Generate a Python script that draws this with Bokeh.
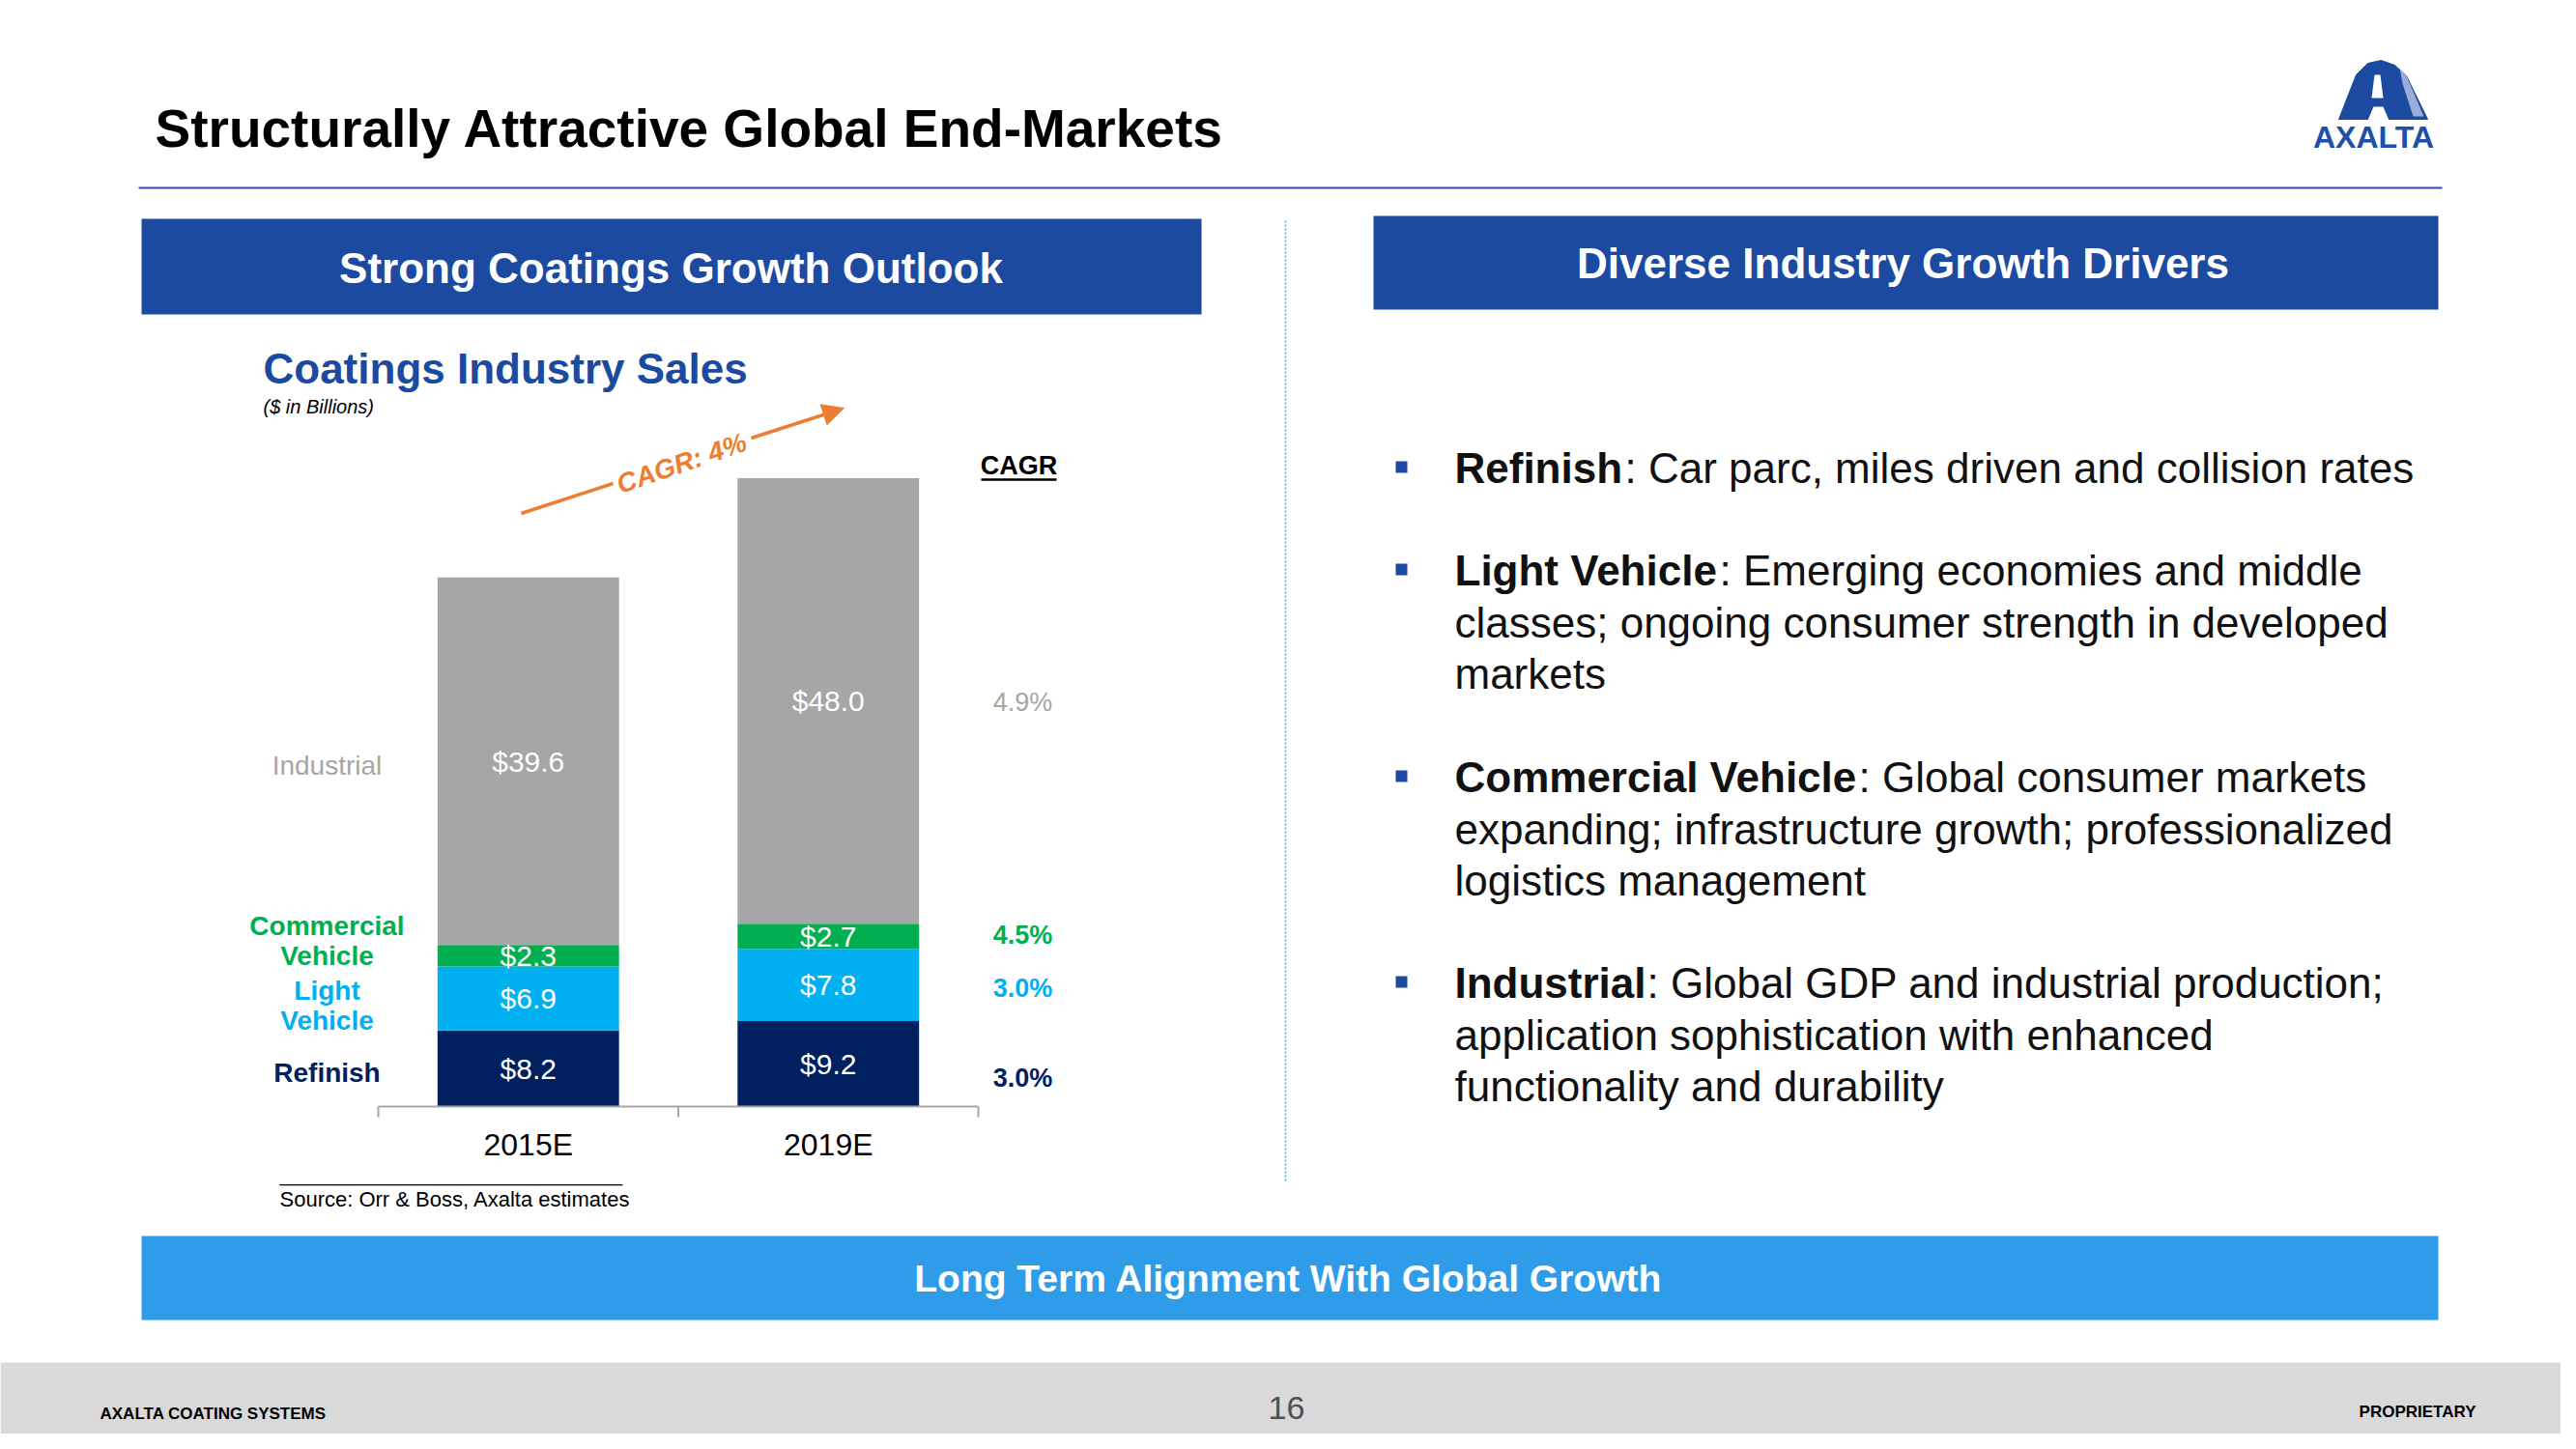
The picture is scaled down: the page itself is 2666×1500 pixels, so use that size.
import numpy as np
from bokeh.plotting import figure
from bokeh.models import Range1d, ColumnDataSource, Arrow, NormalHead
from bokeh.core.properties import value
from bokeh.embed import file_html
from bokeh.resources import INLINE

# ---------------- data ----------------
years = ["2015E", "2019E"]
segment_keys = ["refinish", "light", "commercial", "industrial"]
refinish = [8.2, 9.2]
light_vehicle = [6.9, 7.8]
commercial_vehicle = [2.3, 2.7]
industrial = [39.6, 48.0]
segment_cagr = ["3.0%", "3.0%", "4.5%", "4.9%"]
total_cagr = "CAGR: 4%"
left_labels = ["Refinish", "Light\nVehicle", "Commercial\nVehicle", "Industrial"]

bullets = [
    ("Refinish", [": Car parc, miles driven and collision rates"]),
    ("Light Vehicle", [": Emerging economies and middle",
                       "classes; ongoing consumer strength in developed",
                       "markets"]),
    ("Commercial Vehicle", [": Global consumer markets",
                            "expanding; infrastructure growth; professionalized",
                            "logistics management"]),
    ("Industrial", [": Global GDP and industrial production;",
                    "application sophistication with enhanced",
                    "functionality and durability"]),
]

# ---------------- styles / layout ----------------
seg_colors = ["#002060", "#00b0f0", "#00b050", "#a6a6a6"]
label_colors = ["#002060", "#00b0f0", "#00b050", "#a6a6a6"]
label_styles = ["bold", "bold", "bold", "normal"]
DARK_BLUE = "#1c4aa0"
LIGHT_BANNER = "#2e9ce9"
ORANGE = "#ed7d31"
FONT = "Liberation Sans"

W, H = 2650, 1484
X0, Y0 = 0, 0
CAT_X0, CAT_X1 = 391, 1012     # pixel extent of category axis
VAL_Y0 = 1145                  # pixel y of value 0
PX_PER_UNIT = 9.61
BAR_W = 0.605

p = figure(width=W, height=H, x_range=Range1d(X0, X0 + W), y_range=Range1d(Y0 + H, Y0),
           x_axis_type=None, y_axis_type=None, output_backend="svg", toolbar_location=None,
           min_border=0, outline_line_color=None, background_fill_color="white",
           border_fill_color="white")
p.grid.visible = False

cu = 2.0 / (CAT_X1 - CAT_X0)
p.extra_x_ranges = {"cat": Range1d(-(CAT_X0 - X0) * cu, 2 + (X0 + W - CAT_X1) * cu)}
p.extra_y_ranges = {"val": Range1d(-(Y0 + H - VAL_Y0) / PX_PER_UNIT, (VAL_Y0 - Y0) / PX_PER_UNIT)}


def txt(x, y, s, size, color="black", style="normal", align="left",
        baseline="middle", angle=0.0, xr="default", yr="default", lh=1.2):
    p.text(x=[x], y=[y], text=[s], text_font=value(FONT), text_font_size=f"{size}px",
           text_font_style=style, text_color=color, text_align=align,
           text_baseline=baseline, angle=angle, x_range_name=xr, y_range_name=yr,
           text_line_height=lh)


# ---------------- header ----------------
txt(160, 132, "Structurally Attractive Global End-Markets", 55, style="bold")
p.segment(x0=[143], y0=[194], x1=[2527], y1=[194], line_color="#2f52a0", line_width=2)

# logo
p.patch(x=[2420, 2438, 2450, 2464, 2478, 2490, 2512],
        y=[123, 77, 65, 62, 67, 78, 123], fill_color=DARK_BLUE, line_color=DARK_BLUE)
p.patch(x=[2483, 2490, 2508, 2497, 2486], y=[70, 78, 120, 120, 86],
        fill_color="#a8b8e0", line_color=None, fill_alpha=0.9)
p.patch(x=[2457, 2463, 2466, 2454], y=[77, 77, 101, 101], fill_color="white", line_color=None)
p.patch(x=[2456, 2466, 2472, 2450], y=[110, 110, 124, 124], fill_color="white", line_color=None)
txt(2456, 141, "AXALTA", 32, color="#1d50a8", style="bold", align="center")

# banners
p.quad(left=[146], right=[1243], top=[226], bottom=[325], fill_color=DARK_BLUE, line_color=None)
txt(694, 277, "Strong Coatings Growth Outlook", 44, color="white", style="bold", align="center")
p.quad(left=[1421], right=[2523], top=[223], bottom=[320], fill_color=DARK_BLUE, line_color=None)
txt(1969, 272, "Diverse Industry Growth Drivers", 44, color="white", style="bold", align="center")

# divider
p.segment(x0=[1330], y0=[228], x1=[1330], y1=[1224], line_color="#4aa8e0", line_width=1.5,
          line_dash="2 2")

# ---------------- chart ----------------
txt(272, 381, "Coatings Industry Sales", 44, color=DARK_BLUE, style="bold")
txt(272, 420, "($ in Billions)", 20, style="italic")

xpos = [0.5, 1.5]
src = ColumnDataSource(dict(x=xpos, year=years, refinish=refinish, light=light_vehicle,
                            commercial=commercial_vehicle, industrial=industrial))
p.vbar_stack(segment_keys, x="x", width=BAR_W, color=seg_colors, line_width=0, source=src,
             x_range_name="cat", y_range_name="val")

vals = np.array([refinish, light_vehicle, commercial_vehicle, industrial])
tops = vals.cumsum(axis=0)
mids = tops - vals / 2
lab = ColumnDataSource(dict(
    x=[xpos[j] for i in range(4) for j in range(2)],
    y=[mids[i, j] for i in range(4) for j in range(2)],
    t=[f"${vals[i, j]:.1f}" for i in range(4) for j in range(2)]))
p.text(x="x", y="y", text="t", source=lab, text_font=value(FONT), text_font_size="30px",
       text_color="white", text_align="center", text_baseline="middle",
       x_range_name="cat", y_range_name="val")

# category axis
p.segment(x0=[0], y0=[0], x1=[2], y1=[0], line_color="#a6a6a6", line_width=2,
          x_range_name="cat", y_range_name="val")
tick_len = 11 / PX_PER_UNIT
p.segment(x0=[0, 1, 2], y0=[0, 0, 0], x1=[0, 1, 2], y1=[-tick_len] * 3, line_color="#a6a6a6",
          line_width=2, x_range_name="cat", y_range_name="val")
p.text(x=xpos, y=[1184, 1184], text=years, text_font=value(FONT), text_font_size="32px",
       text_color="black", text_align="center", text_baseline="middle", x_range_name="cat")

# segment labels on the left
LEFT_Y = [1110, 1040, 973, 792]
for i in range(4):
    txt(338, LEFT_Y[i], left_labels[i], 28, color=label_colors[i], style=label_styles[i],
        align="center", lh=1.0)

# CAGR column
txt(1054, 481, "CAGR", 27, style="bold", align="center")
p.segment(x0=[1015], y0=[496], x1=[1093], y1=[496], line_color="black", line_width=2.5)
CAGR_Y = [1115, 1022, 967, 726]
for i in range(4):
    txt(1058, CAGR_Y[i], segment_cagr[i], 27, color=label_colors[i], style=label_styles[i],
        align="center")

# overall CAGR arrow
p.segment(x0=[539], y0=[531], x1=[634], y1=[500], line_color=ORANGE, line_width=3.5)
p.add_layout(Arrow(end=NormalHead(size=22, fill_color=ORANGE, line_color=ORANGE),
                   x_start=777, y_start=453, x_end=873, y_end=422,
                   line_color=ORANGE, line_width=3.5))
txt(705, 479, total_cagr, 28, color=ORANGE, style="bold italic", align="center", angle=0.33)

# source
txt(289, 1215, "_" * 29, 22, baseline="alphabetic")
txt(289, 1241, "Source: Orr & Boss, Axalta estimates", 22)

# ---------------- bullets ----------------
FIRST_MID = [484, 590, 804, 1017]
COLON_X = [1681, 1779, 1923, 1704]
LINE_GAP = 53.5
for k, (head, lines) in enumerate(bullets):
    c = FIRST_MID[k]
    p.rect(x=[1450], y=[c - 1], width=12, height=12, fill_color=DARK_BLUE, line_color=None)
    txt(1505, c, head, 44, color="#111111", style="bold")
    txt(COLON_X[k], c, lines[0], 44, color="#111111")
    for m, ln in enumerate(lines[1:]):
        txt(1505, c + LINE_GAP * (m + 1), ln, 44, color="#111111")

# ---------------- bottom banner & footer ----------------
p.quad(left=[146], right=[2523], top=[1279], bottom=[1366], fill_color=LIGHT_BANNER,
       line_color=None)
txt(1333, 1323, "Long Term Alignment With Global Growth", 39, color="white", style="bold",
    align="center")
p.quad(left=[0], right=[2666], top=[1410], bottom=[1500], fill_color="#d9d9d9", line_color=None)
txt(103, 1463, "AXALTA COATING SYSTEMS", 17, style="bold")
txt(1331, 1457, "16", 34, color="#505050", align="center")
txt(2562, 1461, "PROPRIETARY", 17, style="bold", align="right")

open("out.html", "w").write(file_html(p, INLINE))
